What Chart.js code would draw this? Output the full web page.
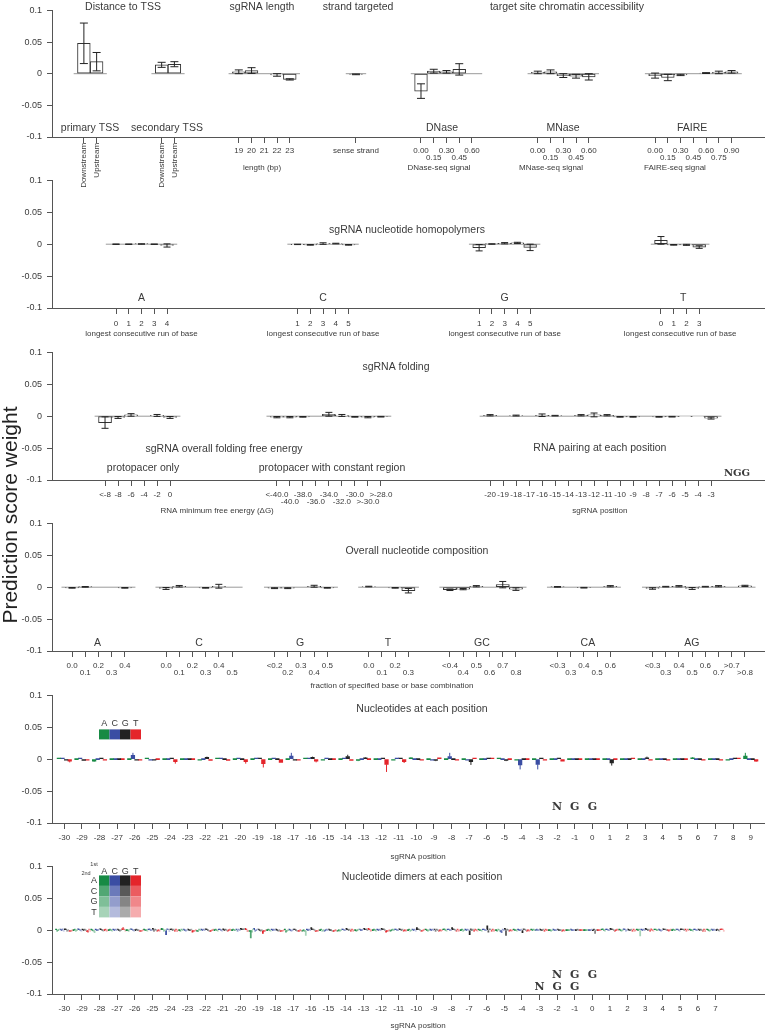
<!DOCTYPE html>
<html>
<head>
<meta charset="utf-8">
<title>Prediction score weights</title>
<script src="https://cdn.jsdelivr.net/npm/chart.js@4.4.1/dist/chart.umd.min.js"></script>
<style>
  body { margin: 0; background: #fff; }
  #page { position: relative; width: 765px; height: 1030px; overflow: hidden; }
  #page canvas { position: absolute; left: 0; }
  #ylab { position: absolute; left: -140px; top: 503px; width: 300px; height: 24px; line-height: 24px;
          text-align: center; transform: rotate(-90deg); font: 21px "Liberation Sans", Arial, sans-serif; color: #222; }
</style>
</head>
<body>
<div id="page">
  <canvas id="c1"></canvas>
  <canvas id="c2"></canvas>
  <canvas id="c3"></canvas>
  <canvas id="c4"></canvas>
  <canvas id="c5"></canvas>
  <canvas id="c6"></canvas>
  <div id="ylab">Prediction score weight</div>
</div>
<script>
// ---- panel 1: TSS, length, strand, chromatin ----
const tssTicks = ['Downstream', 'Upstream'];
const primaryTss = [0.048, 0.019];
const primaryTssErr = [0.032, 0.0145];
const secondaryTss = [0.014, 0.015];
const secondaryTssErr = [0.004, 0.004];
const lengthTicks = ['19', '20', '21', '22', '23'];
const lengthVals = [0.003, 0.005, 0.0, -0.002, -0.009];
const lengthErr = [0.003, 0.0045, 0, 0.002, 0.001];
const strandTicks = ['sense strand'];
const strandVals = [-0.001];
const strandErr = [0.0006];
const accTicks = ['0.00', '0.15', '0.30', '0.45', '0.60'];
const faireTicks = ['0.00', '0.15', '0.30', '0.45', '0.60', '0.75', '0.90'];
const dnaseVals = [-0.0275, 0.004, 0.003, 0.0068, 0.0];
const dnaseErr = [0.0115, 0.003, 0.002, 0.009, 0];
const mnaseVals = [0.002, 0.003, -0.003, -0.004, -0.005];
const mnaseErr = [0.002, 0.003, 0.003, 0.003, 0.005];
const faireVals = [-0.003, -0.006, -0.002, 0.0, 0.001, 0.002, 0.003];
const faireErr = [0.004, 0.005, 0.001, 0, 0.0007, 0.002, 0.002];

// ---- panel 2: homopolymers ----
const runTicksA = ['0', '1', '2', '3', '4'];
const runTicks15 = ['1', '2', '3', '4', '5'];
const runTicksT = ['0', '1', '2', '3'];
const homoA = [0, 0, 0.0003, 0, -0.002];
const homoAErr = [0.0003, 0.0003, 0.0003, 0.0003, 0.0025];
const homoC = [-0.0003, -0.001, 0.001, 0.001, -0.001];
const homoCErr = [0.0003, 0.0005, 0.0012, 0.0005, 0.0005];
const homoG = [-0.0055, 0.0003, 0.0015, 0.002, -0.005];
const homoGErr = [0.005, 0.0003, 0.001, 0.001, 0.005];
const homoT = [0.006, -0.001, -0.001, -0.0045];
const homoTErr = [0.006, 0.0005, 0.0008, 0.002];

// ---- panel 3: folding ----
const mfeTicks = ['<-8', '-8', '-6', '-4', '-2', '0'];
const mfeSpacer = [-0.010, -0.002, 0.002, 0, 0.0012, -0.002];
const mfeSpacerErr = [0.009, 0.0015, 0.002, 0, 0.0015, 0.0015];
const mfeConstTicks = ['<-40.0', '-40.0', '-38.0', '-36.0', '-34.0', '-32.0', '-30.0', '>-30.0', '>-28.0'];
const mfeConst = [-0.0015, -0.0015, -0.001, 0, 0.003, 0.0012, -0.001, -0.0015, -0.0008];
const mfeConstErr = [0.001, 0.001, 0.0005, 0, 0.003, 0.0015, 0.0005, 0.001, 0.0005];
const pairTicks = ['-20', '-19', '-18', '-17', '-16', '-15', '-14', '-13', '-12', '-11', '-10', '-9', '-8', '-7', '-6', '-5', '-4', '-3'];
const pairVals = [0.0015, 0, 0.001, 0, 0.0015, 0.0008, 0, 0.0015, 0.002, 0.0015, -0.001, -0.001, 0, -0.001, -0.0008, -0.0005, -0.0005, -0.003];
const pairErr = [0.001, 0, 0.0007, 0, 0.002, 0.0005, 0, 0.001, 0.003, 0.001, 0.0005, 0.0005, 0, 0.0005, 0.0005, 0, 0, 0.0015];

// ---- panel 4: composition ----
const fracTicksA = ['0.0', '0.1', '0.2', '0.3', '0.4'];
const fracTicksC = ['0.0', '0.1', '0.2', '0.3', '0.4', '0.5'];
const fracTicksG = ['<0.2', '0.2', '0.3', '0.4', '0.5'];
const fracTicksT = ['0.0', '0.1', '0.2', '0.3'];
const fracTicksGC = ['<0.4', '0.4', '0.5', '0.6', '0.7', '0.8'];
const fracTicksCA = ['<0.3', '0.3', '0.4', '0.5', '0.6'];
const fracTicksAG = ['<0.3', '0.3', '0.4', '0.5', '0.6', '0.7', '>0.7', '>0.8'];
const compA = [-0.001, 0.0005, 0, 0, -0.001];
const compAErr = [0.0005, 0.0005, 0, 0, 0.0005];
const compC = [-0.002, 0.0015, 0, -0.001, 0.0015, 0];
const compCErr = [0.0015, 0.0012, 0, 0.0005, 0.003, 0];
const compG = [-0.0015, -0.0015, 0, 0.0015, -0.001];
const compGErr = [0.0007, 0.0007, 0, 0.0015, 0.0005];
const compT = [0.001, 0, -0.001, -0.0055];
const compTErr = [0.0005, 0, 0.0005, 0.0035];
const compGC = [-0.004, -0.003, 0.0015, 0, 0.004, -0.003];
const compGCErr = [0.0012, 0.001, 0.001, 0, 0.005, 0.002];
const compCA = [0.0005, 0, -0.0008, 0, 0.0015];
const compCAErr = [0.0005, 0, 0.0005, 0, 0.001];
const compAG = [-0.002, 0.0008, 0.0015, -0.002, 0.0008, 0.0015, 0, 0.002];
const compAGErr = [0.0012, 0.0005, 0.001, 0.0015, 0.0005, 0.001, 0, 0.001];

// ---- panel 5: nucleotide at each position (values in 1e-3) ----
const NT = ['A', 'C', 'G', 'T'];
const NT_COLORS = ['#178a44', '#3a4da3', '#222222', '#e4252b'];
const positions5 = [-30, -29, -28, -27, -26, -25, -24, -23, -22, -21, -20, -19, -18, -17, -16, -15, -14, -13, -12, -11,
                    -10, -9, -8, -7, -6, -5, -4, -3, -2, -1, 0, 1, 2, 3, 4, 5, 6, 7, 8, 9];
const ntA = [1, 0, -3, 0, 0, 1, 0, 0, -1, 1,   0, 0, 0, 0, 1, -1, 0, -2, 0, -1,   2, 0, 0, 0, 0, 1, -1, 0, 0, 0,   0, 0, 0, 0, 0, 0, 2, 0, -1, 5];
const ntC = [1, 1, 0, 0, 6, -1, 0, 0, 0, 1,    1, 1, 1, 5, 1, 1, 1, 0, 0, 1,      0, -1, 4, -1, 0, 0, -9, -8, 0, 0, 0, 0, 0, 0, 0, 0, 0, 0, 0, 0];
const ntG = [-1, -2, 1, 0, -1, -1, 1, 0, 3, 0, 0, 1, 0, -1, 3, 0, 4, 2, 1, 1,     0, -2, 0, -4, 1, -2, 0, 1, 1, 0, 0, -6, 0, 2, 0, 0, 0, 0, 1, 0];
const ntT = [-3, -1, -1, 0, -1, 0, -4, 0, -2, -2, -4, -7, -5, -1, -3, 0, -2, 0, -8, -4, -1, 2, -1, 1, 1, 0, 0, -1, -3, 0,  0, 0, 1, -1, -1, 0, -1, -1, 1, -3];
const ntAErr = [1, 0, 1, 0, 0, 0, 0, 0, 0, 0,  0, 0, 0, 0, 0, 0, 0, 1, 0, 0,  1, 0, 0, 0, 0, 0, 0, 0, 0, 0,  0, 0, 0, 0, 0, 0, 1, 0, 0, 5];
const ntCErr = [0, 0, 0, 0, 4, 0, 0, 0, 0, 0,  0, 0, 0, 5, 0, 0, 0, 0, 0, 0,  0, 0, 6, 0, 0, 0, 7, 8, 0, 0,  0, 0, 0, 0, 0, 0, 0, 0, 0, 0];
const ntGErr = [0, 0, 0, 0, 0, 0, 0, 0, 1, 0,  0, 0, 0, 0, 1, 0, 3, 1, 0, 0,  0, 1, 0, 5, 0, 1, 0, 0, 0, 0,  0, 4, 0, 2, 0, 0, 0, 0, 0, 0];
const ntTErr = [2, 0, 0, 0, 0, 0, 3, 0, 0, 0,  3, 6, 0, 0, 2, 0, 0, 0, 12, 2, 0, 0, 0, 0, 0, 0, 0, 0, 0, 0,  0, 0, 0, 0, 0, 0, 0, 0, 0, 1];

// ---- panel 6: dimers, rows = position, columns = AA AC AG AT CA CC CG CT GA GC GG GT TA TC TG TT (1e-3) ----
const positions6 = [-30, -29, -28, -27, -26, -25, -24, -23, -22, -21, -20, -19, -18, -17, -16, -15, -14, -13, -12, -11,
                    -10, -9, -8, -7, -6, -5, -4, -3, -2, -1, 0, 1, 2, 3, 4, 5, 6, 7];
const dimerRows = [
  [1, -1, 0, 1, 1, 0, 2, -1, 2, 1, -1, 0, -1, -2, -1, 0],
  [0, 1, -1, 0, 2, 1, 0, -1, 1, 0, 1, 0, -2, -3, 1, -1],
  [1, 0, -1, -4, 1, 0, 0, 1, 2, 1, 0, -1, 0, 1, -1, 0],
  [0, 1, 0, -1, 1, 0, 1, 0, 1, 0, -1, 0, 2, 4, 1, -1],
  [0, 0, -1, 1, 2, 1, 0, -1, 0, 1, 0, 0, -1, -2, -1, 0],
  [1, 0, 0, -1, 1, 2, 0, 0, 3, -1, 1, 0, -1, 0, -1, 1],
  [3, 2, -1, 0, -7, 2, 1, -2, 1, 2, 0, 1, -1, 1, -2, 0],
  [0, -1, 1, 0, 1, 0, -1, 0, 1, 0, 0, 1, -3, -2, -1, 0],
  [-1, -2, 1, 0, 1, 0, 1, 0, 2, 1, 0, -1, -2, -1, 0, 1],
  [0, 1, 0, -1, 1, 1, 0, -1, 2, 0, 1, 0, -1, 0, 1, 0],
  [0, 1, 0, 0, 1, -1, 1, 0, 3, 2, 1, 3, 3, 1, -2, -1],
  [-2, -12, -3, 1, 3, -1, 0, 1, 1, 0, -1, 0, -5, -2, -1, 0],
  [0, 1, 0, -1, 1, 0, 1, 0, 1, 0, -1, 0, -2, -1, -1, 0],
  [1, -3, -1, 0, 1, 0, -1, 0, 1, 1, 0, -1, -1, -2, 0, -1],
  [-1, 0, -2, -8, 1, 0, 1, 0, 4, 2, 1, 0, -2, -1, -1, 0],
  [0, 1, -1, 0, -1, 0, 1, 0, 1, 0, 0, -1, -2, -1, 0, -1],
  [-1, 0, -1, 0, 1, 1, 0, 0, 3, 1, 0, 1, -1, 1, -1, 0],
  [0, -1, 0, 1, 1, 0, 0, 1, 3, 1, 2, 0, 3, 1, -1, 0],
  [0, 1, 0, -1, 1, 0, 1, 0, 3, 1, 2, 0, -3, -2, -1, 0],
  [-1, 0, 1, 0, 1, 1, 0, 0, 2, 1, 0, 1, -1, 0, -1, 0],
  [0, 1, -1, 0, 1, 0, 1, -1, 4, 2, 1, 0, -1, -1, 0, 1],
  [1, 0, -1, 0, 1, 0, 1, 0, 1, -1, 1, 0, -1, 0, -1, 0],
  [1, 2, 0, -1, 1, 1, 0, 0, 4, 2, 1, 0, -1, 1, -1, 0],
  [0, 1, -1, 0, 1, 0, 1, 0, -7, 2, 0, 1, -1, 1, 0, -1],
  [1, 0, 0, -1, 1, 1, 0, 0, 7, -3, 2, 1, -1, 1, -1, 0],
  [0, -1, 1, 0, -2, -4, 1, 0, 3, -8, 1, 0, -1, 0, -1, 0],
  [1, 0, 0, -1, 1, 0, 0, 1, -4, 2, 1, 0, -1, 0, -1, 0],
  [1, 0, 1, 0, 0, 1, 0, 0, 1, 0, 0, 1, -1, 1, 0, 0],
  [0, 0, -1, 0, 1, 0, 0, 0, 1, 0, 0, 0, -1, 0, -1, 0],
  [0, 0, 0, 0, 1, 0, 0, 0, 0, 0, 1, 0, 0, 0, 0, 0],
  [0, 0, 0, 0, 0, 0, 0, 1, 0, 1, -5, 0, 0, 0, 0, 0],
  [1, 2, 0, -1, 1, 1, 0, 0, 3, 2, 1, 0, -1, 0, 1, 0],
  [1, 0, -1, 0, 2, 1, -1, 0, 1, 0, 0, 1, -1, 1, -1, 0],
  [1, 0, 1, -9, 1, 0, 1, 0, 3, 1, 0, 1, -1, 2, 0, -1],
  [1, 1, 0, 0, 1, 0, -1, 0, 2, 1, 1, 0, 0, -1, 0, 1],
  [0, 1, 0, 0, 1, 1, 0, -1, 2, 1, 1, 0, 1, -1, 1, 0],
  [1, 0, 0, -1, 1, 1, 0, 0, 1, 0, 1, 0, -1, 1, -2, 1],
  [1, 0, -1, 0, 1, 0, 1, 0, 0, 1, 0, -1, 1, 2, 1, -1]
];
const SHADE = [0, 0.25, 0.45, 0.62];   // lighter for 2nd base C, G, T

const FONT = '"Liberation Sans", Arial, sans-serif';
const TEXT = '#3a3a3a';
const AXIS = '#555';

Chart.defaults.font.family = FONT;
Chart.defaults.color = TEXT;

function mix(hex, t) {
  const n = parseInt(hex.slice(1), 16);
  const m = c => Math.round(c + (255 - c) * t);
  return `rgb(${m(n >> 16)},${m((n >> 8) & 255)},${m(n & 255)})`;
}

// error bars: 'cap' = symmetric whisker with caps, otherwise a line outward in bar colour
const errorBars = {
  id: 'errorBars',
  afterDatasetsDraw(chart) {
    const ctx = chart.ctx, y = chart.scales.y;
    chart.data.datasets.forEach((ds, i) => {
      if (!ds.errs) return;
      const meta = chart.getDatasetMeta(i);
      ctx.save();
      ctx.lineWidth = 1;
      meta.data.forEach((bar, j) => {
        const e = ds.errs[j];
        if (!e) return;
        const v = ds.data[j].y;
        ctx.beginPath();
        if (ds.errStyle === 'cap') {
          const y0 = y.getPixelForValue(v - e), y1 = y.getPixelForValue(v + e);
          ctx.strokeStyle = '#222';
          ctx.moveTo(bar.x, y0); ctx.lineTo(bar.x, y1);
          ctx.moveTo(bar.x - ds.cap, y0); ctx.lineTo(bar.x + ds.cap, y0);
          ctx.moveTo(bar.x - ds.cap, y1); ctx.lineTo(bar.x + ds.cap, y1);
        } else {
          const dir = v < 0 ? -1 : 1;
          ctx.strokeStyle = ds.backgroundColor;
          ctx.moveTo(bar.x, y.getPixelForValue(v));
          ctx.lineTo(bar.x, y.getPixelForValue(v + dir * e));
        }
        ctx.stroke();
      });
      ctx.restore();
    });
  }
};

function notesPlugin(items, legend) {
  return {
    id: 'notes',
    afterDraw(chart) {
      const { ctx, chartArea: area, scales: { x, y } } = chart;
      items.forEach(n => {
        ctx.save();
        ctx.font = n.font || `10.5px ${FONT}`;
        ctx.fillStyle = TEXT;
        ctx.textAlign = n.align || 'center';
        ctx.textBaseline = 'middle';
        ctx.translate(x.getPixelForValue(n.x), y.getPixelForValue(n.y));
        if (n.rot) ctx.rotate(n.rot * Math.PI / 180);
        ctx.fillText(n.text, 0, 0);
        ctx.restore();
      });
      if (legend === 'nt') {
        const x0 = area.left + 47, y0 = area.top + 34, w = 10.5;
        ctx.save();
        ctx.font = `9px ${FONT}`; ctx.textAlign = 'center'; ctx.textBaseline = 'middle';
        NT.forEach((n, k) => {
          ctx.fillStyle = NT_COLORS[k];
          ctx.fillRect(x0 + k * w, y0, w, 10);
          ctx.fillStyle = TEXT;
          ctx.fillText(n, x0 + k * w + w / 2, y0 - 6);
        });
        ctx.restore();
      }
      if (legend === 'dimer') {
        const x0 = area.left + 47, y0 = area.top + 9, w = 10.5;
        ctx.save();
        ctx.font = `9px ${FONT}`; ctx.textAlign = 'center'; ctx.textBaseline = 'middle';
        NT.forEach((n, c) => {
          NT.forEach((m, r) => {
            ctx.fillStyle = mix(NT_COLORS[c], SHADE[r]);
            ctx.fillRect(x0 + c * w, y0 + r * w, w, w);
          });
          ctx.fillStyle = TEXT;
          ctx.fillText(n, x0 + c * w + w / 2, y0 - 4);
          ctx.fillText(n, x0 - 5, y0 + c * w + w / 2);
        });
        ctx.font = `5.5px ${FONT}`;
        ctx.fillText('1st', x0 - 5, y0 - 11);
        ctx.fillText('2nd', x0 - 13, y0 - 2);
        ctx.restore();
      }
    }
  };
}

function buildPanel(p) {
  const canvas = document.getElementById(p.id);
  canvas.width = 765;
  canvas.height = p.height;
  canvas.style.top = p.top + 'px';
  let datasets = [], tickVals = [], tickLabels = [];

  if (p.groups) {
    const bars = [], errs = [];
    p.groups.forEach(g => {
      g.vals.forEach((v, i) => {
        tickVals.push(g.at + i);
        tickLabels.push(g.rotate ? '' : (g.stagger && i % 2 ? ['', g.ticks[i]] : g.ticks[i]));
        bars.push({ x: g.at + i, y: v });
        errs.push(g.errs[i]);
      });
      datasets.push({
        type: 'line', order: 2, borderColor: '#9a9a9a', borderWidth: 1, pointRadius: 0,
        data: [{ x: g.at - 0.8, y: 0 }, { x: g.at + g.vals.length - 0.2, y: 0 }]
      });
    });
    datasets.push({
      type: 'bar', order: 1, data: bars, errs, errStyle: 'cap', cap: p.cap,
      backgroundColor: '#fff', borderColor: '#333', borderWidth: 1, borderSkipped: false,
      barThickness: p.unit
    });
  } else {
    datasets = p.datasets;
    tickVals = p.positions;
    tickLabels = p.positions.map(String);
  }

  new Chart(canvas, {
    type: 'bar',
    data: { datasets },
    options: {
      responsive: false,
      devicePixelRatio: 1,
      animation: false,
      layout: { padding: { top: p.padTop, left: 0, right: 0, bottom: 0 } },
      plugins: { legend: { display: false }, tooltip: { enabled: false } },
      scales: {
        x: {
          type: 'linear', min: p.min, max: p.max, offset: false,
          grid: { offset: false, drawOnChartArea: false, tickLength: 6, color: AXIS },
          border: { color: AXIS },
          afterBuildTicks: s => { s.ticks = tickVals.map(v => ({ value: v })); },
          afterFit: s => { s.height = p.height - p.padTop - 128; },
          ticks: {
            autoSkip: false, minRotation: 0, maxRotation: 0, padding: p.tickPad, color: TEXT,
            font: { size: 8, lineHeight: 0.78 },
            callback: (v, i) => tickLabels[i]
          }
        },
        y: {
          min: -0.1, max: 0.1,
          grid: { drawOnChartArea: false, tickLength: 5, color: AXIS },
          border: { color: AXIS },
          afterFit: s => { s.width = 52; },
          ticks: { stepSize: 0.05, padding: 5, color: TEXT, font: { size: 9 },
                   callback: v => String(Math.round(v * 100) / 100) }
        }
      }
    },
    plugins: [errorBars, notesPlugin(p.notes, p.legend)]
  });
}

const TITLE = `10.5px ${FONT}`;
const SMALL = `8px ${FONT}`;
const NGG = 'bold 11px "DejaVu Serif", serif';

buildPanel({
  id: 'c1', top: 0, padTop: 9, height: 200, min: 0, max: 55.92, unit: 12.75, cap: 4, tickPad: 5,
  groups: [
    { at: 2.5, ticks: tssTicks, vals: primaryTss, errs: primaryTssErr, rotate: true },
    { at: 8.6, ticks: tssTicks, vals: secondaryTss, errs: secondaryTssErr, rotate: true },
    { at: 14.65, ticks: lengthTicks, vals: lengthVals, errs: lengthErr },
    { at: 23.84, ticks: strandTicks, vals: strandVals, errs: strandErr },
    { at: 28.94, ticks: accTicks, vals: dnaseVals, errs: dnaseErr, stagger: true },
    { at: 38.1, ticks: accTicks, vals: mnaseVals, errs: mnaseErr, stagger: true },
    { at: 47.3, ticks: faireTicks, vals: faireVals, errs: faireErr, stagger: true }
  ],
  notes: [
    { text: 'Distance to TSS', x: 5.57, y: 0.1047 },
    { text: 'sgRNA length', x: 16.47, y: 0.1047 },
    { text: 'strand targeted', x: 24.0, y: 0.1047 },
    { text: 'target site chromatin accessibility', x: 40.39, y: 0.1047 },
    { text: 'primary TSS', x: 2.98, y: -0.086 },
    { text: 'secondary TSS', x: 9.02, y: -0.086 },
    { text: 'DNase', x: 30.59, y: -0.086 },
    { text: 'MNase', x: 40.08, y: -0.086 },
    { text: 'FAIRE', x: 50.2, y: -0.086 },
    { text: 'length (bp)', x: 16.47, y: -0.148, font: SMALL },
    { text: 'DNase-seq signal', x: 30.35, y: -0.1485, font: SMALL },
    { text: 'MNase-seq signal', x: 39.14, y: -0.1485, font: SMALL },
    { text: 'FAIRE-seq signal', x: 48.86, y: -0.1485, font: SMALL },
    { text: tssTicks[0], x: 2.5, y: -0.1094, rot: -90, align: 'right', font: SMALL },
    { text: tssTicks[1], x: 3.5, y: -0.1094, rot: -90, align: 'right', font: SMALL },
    { text: tssTicks[0], x: 8.6, y: -0.1094, rot: -90, align: 'right', font: SMALL },
    { text: tssTicks[1], x: 9.6, y: -0.1094, rot: -90, align: 'right', font: SMALL }
  ]
});

buildPanel({
  id: 'c2', top: 170, padTop: 10, height: 175, min: 0, max: 55.92, unit: 12.75, cap: 3.5, tickPad: 7,
  groups: [
    { at: 5.02, ticks: runTicksA, vals: homoA, errs: homoAErr },
    { at: 19.26, ticks: runTicks15, vals: homoC, errs: homoCErr },
    { at: 33.5, ticks: runTicks15, vals: homoG, errs: homoGErr },
    { at: 47.76, ticks: runTicksT, vals: homoT, errs: homoTErr }
  ],
  notes: [
    { text: 'sgRNA nucleotide homopolymers', x: 27.84, y: 0.0219 },
    { text: 'A', x: 7.02, y: -0.0844 },
    { text: 'C', x: 21.26, y: -0.0844 },
    { text: 'G', x: 35.5, y: -0.0844 },
    { text: 'T', x: 49.5, y: -0.0844 },
    { text: 'longest consecutive run of base', x: 7.02, y: -0.1406, font: SMALL },
    { text: 'longest consecutive run of base', x: 21.26, y: -0.1406, font: SMALL },
    { text: 'longest consecutive run of base', x: 35.5, y: -0.1406, font: SMALL },
    { text: 'longest consecutive run of base', x: 49.26, y: -0.1406, font: SMALL }
  ]
});

buildPanel({
  id: 'c3', top: 342, padTop: 10, height: 178, min: 0, max: 54.85, unit: 13, cap: 3.5, tickPad: 6,
  groups: [
    { at: 4.08, ticks: mfeTicks, vals: mfeSpacer, errs: mfeSpacerErr },
    { at: 17.3, ticks: mfeConstTicks, vals: mfeConst, errs: mfeConstErr, stagger: true },
    { at: 33.7, ticks: pairTicks, vals: pairVals, errs: pairErr }
  ],
  notes: [
    { text: 'sgRNA folding', x: 26.46, y: 0.0766 },
    { text: 'sgRNA overall folding free energy', x: 13.23, y: -0.0516 },
    { text: 'protopacer only', x: 7.0, y: -0.0813 },
    { text: 'protopacer with constant region', x: 21.54, y: -0.0813 },
    { text: 'RNA pairing at each position', x: 42.15, y: -0.05 },
    { text: 'NGG', x: 52.7, y: -0.089, font: 'bold 10px "DejaVu Serif", serif' },
    { text: 'RNA minimum free energy (\u0394G)', x: 12.7, y: -0.148, font: SMALL },
    { text: 'sgRNA position', x: 42.15, y: -0.148, font: SMALL }
  ]
});

buildPanel({
  id: 'c4', top: 513, padTop: 10, height: 180, min: 0, max: 54.02, unit: 13.2, cap: 3.5, tickPad: 6,
  groups: [
    { at: 1.52, ticks: fracTicksA, vals: compA, errs: compAErr, stagger: true },
    { at: 8.64, ticks: fracTicksC, vals: compC, errs: compCErr, stagger: true },
    { at: 16.86, ticks: fracTicksG, vals: compG, errs: compGErr, stagger: true },
    { at: 24.0, ticks: fracTicksT, vals: compT, errs: compTErr, stagger: true },
    { at: 30.15, ticks: fracTicksGC, vals: compGC, errs: compGCErr, stagger: true },
    { at: 38.3, ticks: fracTicksCA, vals: compCA, errs: compCAErr, stagger: true },
    { at: 45.5, ticks: fracTicksAG, vals: compAG, errs: compAGErr, stagger: true }
  ],
  notes: [
    { text: 'Overall nucleotide composition', x: 27.65, y: 0.0563 },
    { text: 'A', x: 3.45, y: -0.0875 },
    { text: 'C', x: 11.14, y: -0.0875 },
    { text: 'G', x: 18.8, y: -0.0875 },
    { text: 'T', x: 25.45, y: -0.0875 },
    { text: 'GC', x: 32.57, y: -0.0875 },
    { text: 'CA', x: 40.6, y: -0.0875 },
    { text: 'AG', x: 48.48, y: -0.0875 },
    { text: 'fraction of specified base or base combination', x: 25.76, y: -0.1547, font: SMALL }
  ]
});

const ntSeries = [ntA, ntC, ntG, ntT];
const ntErrs = [ntAErr, ntCErr, ntGErr, ntTErr];
buildPanel({
  id: 'c5', top: 685, padTop: 10, height: 180, min: -30.7, max: 9.81, tickPad: 6,
  positions: positions5,
  datasets: ntSeries.map((vals, k) => ({
    type: 'bar', data: positions5.map((p, i) => ({ x: p, y: vals[i] / 1000 })),
    errs: ntErrs[k].map(e => e / 1000), errStyle: 'line',
    backgroundColor: NT_COLORS[k], borderWidth: 0, barThickness: 3.6, minBarLength: 1
  })),
  legend: 'nt',
  notes: [
    { text: 'Nucleotides at each position', x: -9.68, y: 0.078 },
    { text: 'N', x: -2, y: -0.075, font: NGG },
    { text: 'G', x: -1, y: -0.075, font: NGG },
    { text: 'G', x: 0, y: -0.075, font: NGG },
    { text: 'sgRNA position', x: -9.9, y: -0.153, font: SMALL }
  ]
});

const dimerSets = [];
NT.forEach((first, c) => NT.forEach((second, r) => {
  const k = c * 4 + r;
  dimerSets.push({
    type: 'bar', label: first + second,
    data: positions6.map((p, i) => ({ x: p, y: dimerRows[i][k] / 1000 })),
    backgroundColor: mix(NT_COLORS[c], SHADE[r]), borderWidth: 0, barThickness: 1.1, minBarLength: 1
  });
}));
buildPanel({
  id: 'c6', top: 856, padTop: 10, height: 174, min: -30.7, max: 9.81, tickPad: 6,
  positions: positions6,
  datasets: dimerSets,
  legend: 'dimer',
  notes: [
    { text: 'Nucleotide dimers at each position', x: -9.68, y: 0.0828 },
    { text: 'N', x: -2, y: -0.0703, font: NGG },
    { text: 'G', x: -1, y: -0.0703, font: NGG },
    { text: 'G', x: 0, y: -0.0703, font: NGG },
    { text: 'N', x: -3, y: -0.089, font: NGG },
    { text: 'G', x: -2, y: -0.089, font: NGG },
    { text: 'G', x: -1, y: -0.089, font: NGG },
    { text: 'sgRNA position', x: -9.9, y: -0.15, font: SMALL }
  ]
});
</script>
</body>
</html>
